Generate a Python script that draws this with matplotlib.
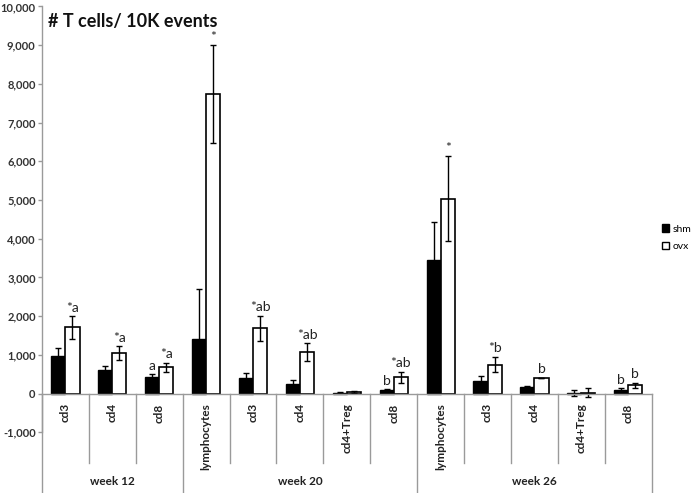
import numpy as np
import matplotlib
matplotlib.use("Agg")
import matplotlib.pyplot as plt
from matplotlib.patches import Patch
from matplotlib.ticker import FuncFormatter

plt.rcParams['font.family'] = ['Lato', 'DejaVu Sans']

# ----------------------------
# Data
# ----------------------------
categories = ['cd3', 'cd4', 'cd8',
              'lymphocytes', 'cd3', 'cd4', 'cd4+Treg', 'cd8',
              'lymphocytes', 'cd3', 'cd4', 'cd4+Treg', 'cd8']
group_names = ['week 12', 'week 20', 'week 26']
group_sizes = [3, 5, 5]

shm = [980, 600, 425, 1410, 400, 255, 20, 85, 3460, 315, 180, 10, 85]
shm_err = [190, 125, 70, 1280, 140, 85, 15, 35, 980, 145, 10, 80, 50]
ovx = [1710, 1040, 680, 7730, 1690, 1070, 40, 425, 5030, 750, 400, 20, 210]
ovx_err = [290, 180, 115, 1260, 320, 225, 15, 140, 1100, 205, 10, 120, 75]

shm_marks = ['', '', 'a', '', '', '', '', 'b', '', '', '', '', 'b']
ovx_marks = ['*a', '*a', '*a', '*', '*ab', '*ab', '', '*ab', '*', '*b', 'b', '', 'b']

# ----------------------------
# Figure
# ----------------------------
fig = plt.figure(figsize=(6.93, 4.93), dpi=100)
ax = fig.add_axes([0.0606, 0.1231, 0.8798, 0.8640])

x = np.arange(len(categories))
w = 0.3
grey = '#9a9a9a'

ax.bar(x - w/2, shm, w, color='black', edgecolor='black', linewidth=1,
       yerr=shm_err, error_kw=dict(ecolor='black', elinewidth=1, capsize=2.5, capthick=1),
       label='shm', zorder=2)
ax.bar(x + w/2, ovx, w, color='white', edgecolor='black', linewidth=1.2,
       yerr=ovx_err, error_kw=dict(ecolor='black', elinewidth=1, capsize=2.5, capthick=1),
       label='ovx', zorder=2)

# significance letters
for i in range(len(categories)):
    if shm_marks[i]:
        ax.text(x[i] - w/2, shm[i] + shm_err[i] + 60, shm_marks[i],
                ha='center', va='bottom', fontsize=10, color='#222222')
    if ovx_marks[i]:
        ax.text(x[i] + w/2, ovx[i] + ovx_err[i] + 60, ovx_marks[i],
                ha='center', va='bottom', fontsize=10, color='#222222')

ax.set_xlim(-0.5, len(categories) - 0.5)
ax.set_ylim(-1000, 10000)
ax.set_yticks(np.arange(-1000, 10001, 1000))
ax.yaxis.set_major_formatter(FuncFormatter(lambda v, p: f'{int(v):,}'))
for lbl in ax.get_yticklabels():
    lbl.set_fontweight('bold')
ax.tick_params(axis='y', labelsize=8, colors=grey, labelcolor='#333333',
               length=3, width=1, pad=1.5)
ax.set_xticks([])

for s in ['top', 'right']:
    ax.spines[s].set_visible(False)
ax.spines['bottom'].set_position(('data', 0))
ax.spines['bottom'].set_color(grey)
ax.spines['left'].set_color(grey)
ax.spines['left'].set_linewidth(1)
ax.spines['bottom'].set_linewidth(1)

# multi-level category axis below zero
inner_bottom = -1790
outer_bottom = -2620
bounds = np.cumsum([0] + group_sizes) - 0.5
for b in np.arange(len(categories) + 1) - 0.5:
    bottom = outer_bottom if b in bounds else inner_bottom
    ax.plot([b, b], [0, bottom], color=grey, lw=1, clip_on=False, zorder=1)

for i, c in enumerate(categories):
    ax.text(x[i], -250, c, rotation=90, ha='center', va='top',
            fontsize=8.5, fontweight='bold', color='#222222', clip_on=False)

for j, g in enumerate(group_names):
    ax.text((bounds[j] + bounds[j + 1]) / 2, -2280, g, ha='center', va='center',
            fontsize=8.5, fontweight='bold', color='#222222', clip_on=False)

ax.text(0.010, 0.985, '# T cells/ 10K events', transform=ax.transAxes,
        ha='left', va='top', fontsize=13, fontweight='bold', color='#111111')

handles = [Patch(facecolor='black', edgecolor='black', label='shm'),
           Patch(facecolor='white', edgecolor='black', label='ovx')]
fig.legend(handles=handles, loc='upper left', bbox_to_anchor=(0.955, 0.545),
           frameon=False, fontsize=7.5, handlelength=0.7, handleheight=0.7,
           handletextpad=0.3, labelspacing=0.8, borderpad=0, borderaxespad=0)

fig.savefig('out.png', dpi=100)
